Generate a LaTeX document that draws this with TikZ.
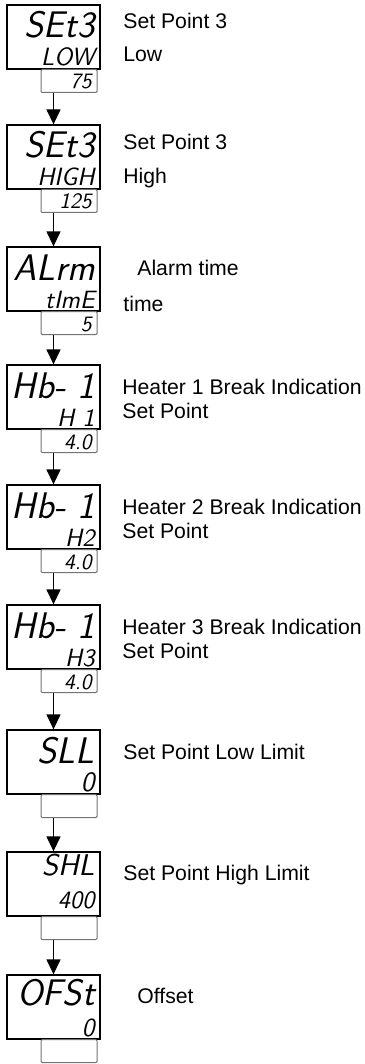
\documentclass[tikz,border=0pt]{standalone}
\usepackage{fontspec}
\setmainfont{Liberation Sans}
\usetikzlibrary{arrows.meta}
\tikzset{
  x=0.5pt, y=-0.5pt,
  mainbox/.style={draw, line width=0.65pt, minimum width=46.5pt, minimum height=32pt, inner sep=0pt},
  smallbox/.style={draw=black!55, line width=0.5pt, rounded corners=0.6pt, minimum width=28pt, minimum height=11.5pt, inner sep=0pt, anchor=north},
  segA/.style={anchor=base east, inner sep=0pt, font=\sffamily\itshape\fontsize{18.5}{18.5}\selectfont\addfontfeature{LetterSpace=6}},
  segB/.style={anchor=base east, inner sep=0pt, font=\sffamily\itshape\fontsize{12.5}{12.5}\selectfont\addfontfeature{LetterSpace=12}},
  segC/.style={anchor=base east, inner sep=0pt, font=\sffamily\itshape\fontsize{11}{11}\selectfont\addfontfeature{LetterSpace=10}},
  lbl/.style={anchor=base west, inner sep=0pt, font=\fontsize{10.6}{12}\selectfont},
  flow/.style={line width=0.65pt, -{Triangle[width=7pt,length=7.5pt]}},
}
% #1 index, #2 top y, #3 row1, #4 row2, #5 small, #6 extra style row1, #7 extra style row2
\newcommand\DispPanel[7]{%
  \node[mainbox] (m#1) at (53.5,{#2+32}) {};
  \node[smallbox] (s#1) at (69,{#2+64}) {};
  \node[segA,#6] (r#1a) at (95,{#2+33}) {#3};
  \node[segB,#7] (r#1b) at (95,{#2+61}) {#4};
  \node[segC] (r#1c) at (92,{#2+84}) {#5};
}
\begin{document}
\begin{tikzpicture}
\useasboundingbox (0,0) rectangle (364,1064);

\DispPanel{1}{5}{SEt3}{LOW}{75}{}{}
\DispPanel{2}{125}{SEt3}{HIGH}{125}{}{}
\DispPanel{3}{247}{ALrm}{tImE}{5}{}{}
\DispPanel{4}{365}{Hb- 1}{H 1}{4.0}{}{}
\DispPanel{5}{485}{Hb- 1}{H2}{4.0}{}{}
\DispPanel{6}{605}{Hb- 1}{H3}{4.0}{}{}
\DispPanel{7}{730}{SLL}{0}{}{}{font=\sffamily\itshape\fontsize{14}{14}\selectfont}
\DispPanel{8}{852}{SHL}{400}{}{yshift=5pt,font=\sffamily\itshape\fontsize{15}{15}\selectfont\addfontfeature{LetterSpace=6}}{yshift=2.5pt,font=\sffamily\itshape\fontsize{12.5}{12.5}\selectfont\addfontfeature{LetterSpace=8}}
\DispPanel{9}{975}{OFSt}{0}{}{yshift=1.5pt}{font=\sffamily\itshape\fontsize{13}{13}\selectfont}

\foreach \i/\j in {1/2,2/3,3/4,4/5,5/6,6/7,7/8,8/9}
  \draw[flow] (m\i.center |- s\i.south) -- (m\j.north);

\node[lbl] (l1a) at (123,29) {Set Point 3};
\node[lbl] (l1b) at (123,62) {Low};
\node[lbl] (l2a) at (123,150) {Set Point 3};
\node[lbl] (l2b) at (123,184) {High};
\node[lbl] (l3a) at (137,275) {Alarm time};
\node[lbl] (l3b) at (123,311) {time};
\node[lbl] (l4a) at (122,394) {Heater 1 Break Indication};
\node[lbl] (l4b) at (122,418) {Set Point};
\node[lbl] (l5a) at (122,514) {Heater 2 Break Indication};
\node[lbl] (l5b) at (122,538) {Set Point};
\node[lbl] (l6a) at (122,634) {Heater 3 Break Indication};
\node[lbl] (l6b) at (122,658) {Set Point};
\node[lbl] (l7a) at (123,759) {Set Point Low Limit};
\node[lbl] (l8a) at (123,880) {Set Point High Limit};
\node[lbl] (l9a) at (137,1003) {Offset};
\end{tikzpicture}
\end{document}
